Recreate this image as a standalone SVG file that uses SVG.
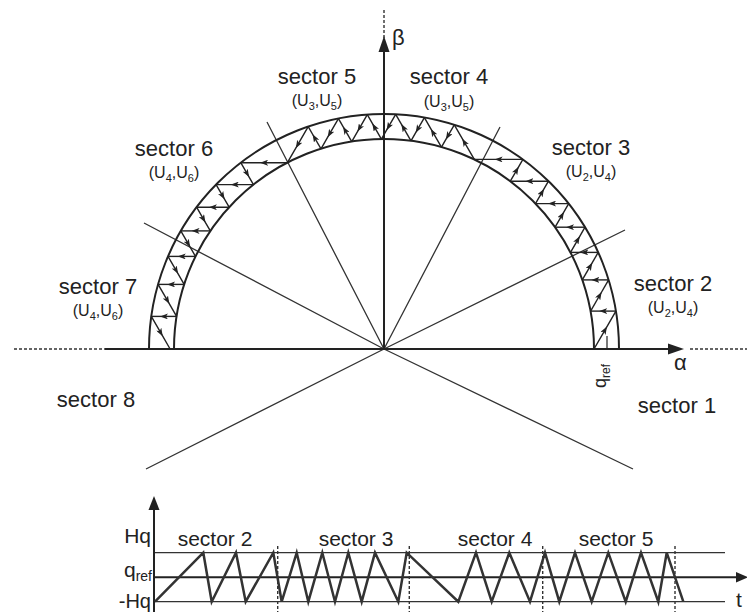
<svg xmlns="http://www.w3.org/2000/svg" width="747" height="612" viewBox="0 0 747 612">
<defs>
<marker id="tri" viewBox="0 0 8 6" refX="4" refY="3" markerWidth="8" markerHeight="6" markerUnits="userSpaceOnUse" orient="auto"><path d="M0,0L8,3L0,6L2,3z" fill="#222"/></marker>
<style>
text{font-family:"Liberation Sans",Arial,sans-serif;fill:#222}
.lbl{font-size:22px}
.lbl2{font-size:21px}
.sub{font-size:16px}
.ax{stroke:#222;stroke-width:2;fill:none}
.dash{stroke:#333;stroke-width:1.4;stroke-dasharray:3 2;fill:none}
.ray{stroke:#333;stroke-width:1.3;fill:none}
.arc{stroke:#222;stroke-width:2;fill:none}
.seg{stroke:#222;stroke-width:1.4;fill:none;marker-mid:url(#tri)}
.thin{stroke:#333;stroke-width:1.3;fill:none}
.wave{stroke:#333;stroke-width:2.5;fill:none;stroke-linejoin:miter}
.head{fill:#222}
</style>
</defs>
<rect width="747" height="612" fill="#fff"/>

<g id="sector-lines">
<path class="ray" d="M384 349L625 230M384 349L146 469M384 349L144 223M384 349L633 469M384 349L500 127M384 349L267 122"/>
</g>

<g id="band">
<path class="arc" d="M149 349A235 235 0 0 1 619 349"/>
<path class="arc" d="M174 349A210 210 0 0 1 594 349"/>
<line class="thin" x1="607" y1="336" x2="607" y2="349"/>
</g>

<g id="axes">
<path class="dash" d="M14 349H105M690 349H747"/>
<path class="ax" d="M105 349H670"/>
<path class="head" d="M684 349L668 343.5L668 354.5z"/>
<path class="dash" d="M384 10V38"/>
<path class="ax" d="M384 50V349"/>
<path class="head" d="M384 36L378.5 52L389.5 52z"/>
<text class="lbl" x="392" y="45">β</text>
<text class="lbl" x="674" y="370">α</text>
<text font-size="18" transform="translate(606 388) rotate(-90)">q<tspan font-size="12" dy="4">ref</tspan></text>
</g>

<g id="trajectory">
<path class="seg" d="M594 349L604.95 330.05L615.9 311.1"/>
<path class="seg" d="M615.9 311.1L603.25 311.1L590.6 311.1"/>
<path class="seg" d="M590.6 311.1L599.6 295.5L608.6 279.9"/>
<path class="seg" d="M608.6 279.9L595.45 279.9L582.3 279.9"/>
<path class="seg" d="M582.3 279.9L590.25 266.15L598.2 252.4"/>
<path class="seg" d="M598.2 252.4L584.35 252.4L570.5 252.4"/>
<path class="seg" d="M570.5 252.4L577.75 239.8L585 227.2"/>
<path class="seg" d="M585 227.2L570.05 227.2L555.1 227.2"/>
<path class="seg" d="M555.1 227.2L561.9 215.4L568.7 203.6"/>
<path class="seg" d="M568.7 203.6L552.1 203.6L535.5 203.6"/>
<path class="seg" d="M535.5 203.6L541.95 192.4L548.45 181.2"/>
<path class="seg" d="M548.45 181.2L529.4 181.2L510.3 181.2"/>
<path class="seg" d="M510.3 181.2L516.6 170.3L522.9 159.4"/>
<path class="seg" d="M522.9 159.4L498.6 159.4L474.3 159.4"/>
<path class="seg" d="M474.3 159.4L464.3 142.1L454.3 124.8"/>
<path class="seg" d="M454.3 124.8L447.9 135.95L441.45 147.1"/>
<path class="seg" d="M441.45 147.1L432.9 132.35L424.4 117.6"/>
<path class="seg" d="M424.4 117.6L417.7 129.2L411 140.8"/>
<path class="seg" d="M411 140.8L403.35 127.55L395.7 114.3"/>
<path class="seg" d="M395.7 114.3L388.55 126.7L381.4 139.1"/>
<path class="seg" d="M381.4 139.1L374.35 126.9L367.3 114.7"/>
<path class="seg" d="M367.3 114.7L359.5 128.15L351.75 141.6"/>
<path class="seg" d="M351.75 141.6L345.1 130.1L338.45 118.6"/>
<path class="seg" d="M338.45 118.6L329.7 133.7L321 148.8"/>
<path class="seg" d="M321 148.8L314.6 137.75L308.2 126.7"/>
<path class="seg" d="M308.2 126.7L297.8 144.7L287.4 162.7"/>
<path class="seg" d="M287.4 162.7L264.1 162.7L240.8 162.7"/>
<path class="seg" d="M240.8 162.7L247.1 173.65L253.45 184.6"/>
<path class="seg" d="M253.45 184.6L234.8 184.6L216.1 184.6"/>
<path class="seg" d="M216.1 184.6L222.6 195.9L229.15 207.2"/>
<path class="seg" d="M229.15 207.2L212.9 207.2L196.6 207.2"/>
<path class="seg" d="M196.6 207.2L203.45 219.05L210.3 230.9"/>
<path class="seg" d="M210.3 230.9L195.55 230.9L180.8 230.9"/>
<path class="seg" d="M180.8 230.9L188.15 243.65L195.5 256.4"/>
<path class="seg" d="M195.5 256.4L181.75 256.4L168 256.4"/>
<path class="seg" d="M168 256.4L176.1 270.4L184.15 284.4"/>
<path class="seg" d="M184.15 284.4L171.1 284.4L158.1 284.4"/>
<path class="seg" d="M158.1 284.4L167.35 300.4L176.6 316.4"/>
<path class="seg" d="M176.6 316.4L163.95 316.4L151.3 316.4"/>
<path class="seg" d="M151.3 316.4L160.7 332.7L170.1 349"/>
</g>

<g id="sector-labels">
<text class="lbl" x="317" y="84" text-anchor="middle">sector 5</text>
<text class="sub" x="317" y="106" text-anchor="middle">(U<tspan font-size="11" dy="4">3</tspan><tspan dy="-4">,U</tspan><tspan font-size="11" dy="4">5</tspan><tspan dy="-4">)</tspan></text>
<text class="lbl" x="449" y="84" text-anchor="middle">sector 4</text>
<text class="sub" x="449" y="107" text-anchor="middle">(U<tspan font-size="11" dy="4">3</tspan><tspan dy="-4">,U</tspan><tspan font-size="11" dy="4">5</tspan><tspan dy="-4">)</tspan></text>
<text class="lbl" x="591" y="155" text-anchor="middle">sector 3</text>
<text class="sub" x="591" y="177" text-anchor="middle">(U<tspan font-size="11" dy="4">2</tspan><tspan dy="-4">,U</tspan><tspan font-size="11" dy="4">4</tspan><tspan dy="-4">)</tspan></text>
<text class="lbl" x="174" y="156" text-anchor="middle">sector 6</text>
<text class="sub" x="174" y="178" text-anchor="middle">(U<tspan font-size="11" dy="4">4</tspan><tspan dy="-4">,U</tspan><tspan font-size="11" dy="4">6</tspan><tspan dy="-4">)</tspan></text>
<text class="lbl" x="98" y="294" text-anchor="middle">sector 7</text>
<text class="sub" x="98" y="316" text-anchor="middle">(U<tspan font-size="11" dy="4">4</tspan><tspan dy="-4">,U</tspan><tspan font-size="11" dy="4">6</tspan><tspan dy="-4">)</tspan></text>
<text class="lbl" x="673" y="291" text-anchor="middle">sector 2</text>
<text class="sub" x="673" y="313" text-anchor="middle">(U<tspan font-size="11" dy="4">2</tspan><tspan dy="-4">,U</tspan><tspan font-size="11" dy="4">4</tspan><tspan dy="-4">)</tspan></text>
<text class="lbl" x="96" y="407" text-anchor="middle">sector 8</text>
<text class="lbl" x="677" y="413" text-anchor="middle">sector 1</text>
</g>

<g id="waveform">
<path class="thin" d="M154 552.7H725M154 601.7H725"/>
<path class="ax" d="M154 577.3H738"/>
<path class="head" d="M748 577.3L736 572L736 582.6z"/>
<path class="ax" d="M154 508V612"/>
<path class="head" d="M154 496L148.5 510L159.5 510z"/>
<path class="dash" d="M277.7 546V612M409.3 546V612M542.7 546V612M675 546V612"/>
<path class="wave" d="M155 601.7L203.3 552.7L211.7 601.7L236 552.7L245.7 601.7L273.3 552.7L281.7 601.7L296.7 552.7L308.3 601.7L322.3 552.7L335 601.7L348.3 552.7L361.7 601.7L375 552.7L398.3 601.7L406.7 552.7L458.3 601.7L476 552.7L491.7 601.7L509.3 552.7L530 601.7L545 552.7L559.3 601.7L575 552.7L591.7 601.7L608.3 552.7L625.7 601.7L641 552.7L658.3 601.7L666.7 552.7L683.3 601.7"/>
<text class="lbl2" x="151" y="543" text-anchor="end">Hq</text>
<text class="lbl2" x="152" y="577" text-anchor="end">q<tspan font-size="14" dy="4">ref</tspan></text>
<text x="151" y="607.5" font-size="20" text-anchor="end">-Hq</text>
<text class="lbl2" x="736" y="607">t</text>
<text class="lbl2" x="215" y="546" text-anchor="middle">sector 2</text>
<text class="lbl2" x="356" y="546" text-anchor="middle">sector 3</text>
<text class="lbl2" x="495" y="546" text-anchor="middle">sector 4</text>
<text class="lbl2" x="616" y="546" text-anchor="middle">sector 5</text>
</g>
</svg>
